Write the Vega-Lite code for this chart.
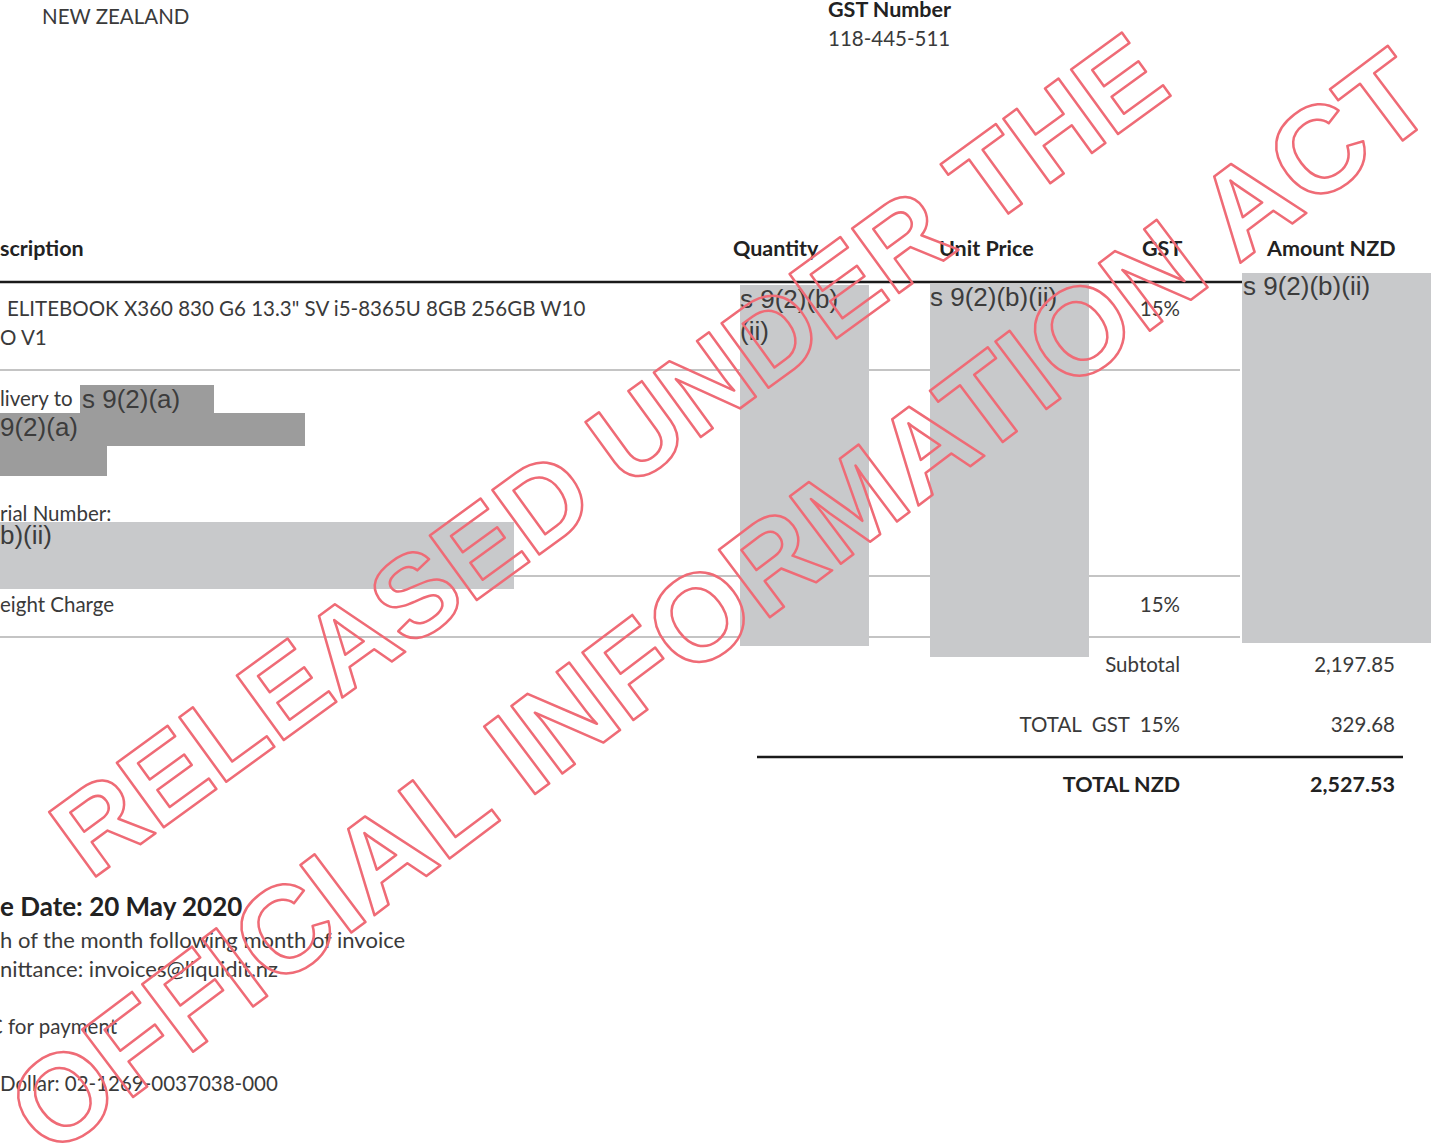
{
  "$schema": "https://vega.github.io/schema/vega-lite/v6.json",
  "width": 1431,
  "height": 1146,
  "autosize": "none",
  "padding": 0,
  "background": "#ffffff",
  "config": {"view": {"stroke": null}},
  "datasets": {
    "blackRules": [
      {"x": 0, "x2": 1431, "y": 282},
      {"x": 757, "x2": 1403, "y": 757}
    ],
    "grayRules": [
      {"x": 0, "x2": 1240, "y": 370},
      {"x": 0, "x2": 1240, "y": 576},
      {"x": 0, "x2": 1240, "y": 637}
    ],
    "darkBlocks": [
      {"x": 80, "x2": 214, "y": 385, "y2": 414},
      {"x": 0, "x2": 305, "y": 413, "y2": 446},
      {"x": 0, "x2": 107, "y": 445, "y2": 476}
    ],
    "lightBlocks": [
      {"x": 0, "x2": 514, "y": 522, "y2": 589},
      {"x": 740, "x2": 869, "y": 285, "y2": 646},
      {"x": 930, "x2": 1089, "y": 284, "y2": 657},
      {"x": 1242, "x2": 1431, "y": 273, "y2": 643}
    ],
    "bodyLeft": [
      {"x": 42, "y": 18, "text": "NEW ZEALAND"},
      {"x": 828, "y": 40, "text": "118-445-511"},
      {"x": 7, "y": 310, "text": "ELITEBOOK X360 830 G6 13.3\" SV i5-8365U 8GB 256GB W10"},
      {"x": 0, "y": 339, "text": "O V1"},
      {"x": 0, "y": 400, "text": "livery to"},
      {"x": 0, "y": 515, "text": "rial Number:"},
      {"x": 0, "y": 606, "text": "eight Charge"},
      {"x": -11, "y": 1028, "text": "C for payment"},
      {"x": 0, "y": 1085, "text": "Dollar: 02-1269-0037038-000"}
    ],
    "bodyWide": [
      {"x": 0, "y": 941, "text": "h of the month following month of invoice"},
      {"x": 0, "y": 970, "text": "nittance: invoices@liquidit.nz"}
    ],
    "bodyRight": [
      {"x": 1180, "y": 310, "text": "15%"},
      {"x": 1180, "y": 606, "text": "15%"},
      {"x": 1180, "y": 666, "text": "Subtotal"},
      {"x": 1395, "y": 666, "text": "2,197.85"},
      {"x": 1180, "y": 726, "text": "TOTAL\u00a0 GST\u00a0 15%"},
      {"x": 1395, "y": 726, "text": "329.68"}
    ],
    "boldLeft": [
      {"x": 828, "y": 11, "text": "GST Number"},
      {"x": 0, "y": 250, "text": "scription"},
      {"x": 733, "y": 250, "text": "Quantity"},
      {"x": 939, "y": 250, "text": "Unit Price"},
      {"x": 1142, "y": 250, "text": "GST"},
      {"x": 1267, "y": 250, "text": "Amount NZD"}
    ],
    "boldRight": [
      {"x": 1180, "y": 786, "text": "TOTAL NZD"},
      {"x": 1395, "y": 786, "text": "2,527.53"}
    ],
    "dueDate": [
      {"x": 0, "y": 908, "text": "e Date: 20 May 2020"}
    ],
    "redactText": [
      {"x": 740, "y": 300, "text": "s 9(2)(b)"},
      {"x": 740, "y": 332, "text": "(ii)"},
      {"x": 930, "y": 298, "text": "s 9(2)(b)(ii)"},
      {"x": 1243, "y": 287, "text": "s 9(2)(b)(ii)"},
      {"x": 82, "y": 400, "text": "s 9(2)(a)"},
      {"x": 0, "y": 428, "text": "9(2)(a)"},
      {"x": 0, "y": 536, "text": "b)(ii)"}
    ],
    "stampTop": [
      {"x": 632, "y": 487, "text": "RELEASED UNDER THE"}
    ],
    "stampBottom": [
      {"x": 745, "y": 636, "text": "OFFICIAL INFORMATION ACT"}
    ]
  },
  "encoding": {
    "x": {"field": "x", "type": "quantitative", "axis": null, "scale": {"domain": [0, 1431], "nice": false, "zero": false}},
    "y": {"field": "y", "type": "quantitative", "axis": null, "scale": {"domain": [0, 1146], "nice": false, "zero": false, "reverse": true}}
  },
  "layer": [
    {
      "data": {"name": "blackRules"},
      "mark": {"type": "rule", "color": "#1a1a1a", "strokeWidth": 2.5},
      "encoding": {"x2": {"field": "x2"}}
    },
    {
      "data": {"name": "grayRules"},
      "mark": {"type": "rule", "color": "#c4c4c4", "strokeWidth": 2},
      "encoding": {"x2": {"field": "x2"}}
    },
    {
      "data": {"name": "darkBlocks"},
      "mark": {"type": "rect", "color": "#9c9c9c"},
      "encoding": {"x2": {"field": "x2"}, "y2": {"field": "y2"}}
    },
    {
      "data": {"name": "lightBlocks"},
      "mark": {"type": "rect", "color": "#c8c9cb"},
      "encoding": {"x2": {"field": "x2"}, "y2": {"field": "y2"}}
    },
    {
      "data": {"name": "bodyLeft"},
      "mark": {"type": "text", "align": "left", "baseline": "middle", "font": "Lato", "fontSize": 20.5, "color": "#3a3a3a"},
      "encoding": {"text": {"field": "text"}}
    },
    {
      "data": {"name": "bodyWide"},
      "mark": {"type": "text", "align": "left", "baseline": "middle", "font": "Lato", "fontSize": 22, "color": "#3a3a3a"},
      "encoding": {"text": {"field": "text"}}
    },
    {
      "data": {"name": "bodyRight"},
      "mark": {"type": "text", "align": "right", "baseline": "middle", "font": "Lato", "fontSize": 20.5, "color": "#3a3a3a"},
      "encoding": {"text": {"field": "text"}}
    },
    {
      "data": {"name": "boldLeft"},
      "mark": {"type": "text", "align": "left", "baseline": "middle", "font": "Lato", "fontWeight": "bold", "fontSize": 21.5, "color": "#222222"},
      "encoding": {"text": {"field": "text"}}
    },
    {
      "data": {"name": "boldRight"},
      "mark": {"type": "text", "align": "right", "baseline": "middle", "font": "Lato", "fontWeight": "bold", "fontSize": 21.5, "color": "#222222"},
      "encoding": {"text": {"field": "text"}}
    },
    {
      "data": {"name": "dueDate"},
      "mark": {"type": "text", "align": "left", "baseline": "middle", "font": "Lato", "fontWeight": "bold", "fontSize": 26, "color": "#222222"},
      "encoding": {"text": {"field": "text"}}
    },
    {
      "data": {"name": "redactText"},
      "mark": {"type": "text", "align": "left", "baseline": "middle", "font": "Liberation Sans", "fontSize": 26, "color": "#3c3c3c"},
      "encoding": {"text": {"field": "text"}}
    },
    {
      "data": {"name": "stampTop"},
      "mark": {"type": "text", "align": "center", "baseline": "alphabetic", "font": "Liberation Sans", "fontWeight": "bold", "fontSize": 116, "angle": -36, "fill": "transparent", "stroke": "#ef6b76", "strokeWidth": 2.5, "strokeJoin": "round"},
      "encoding": {"text": {"field": "text"}}
    },
    {
      "data": {"name": "stampBottom"},
      "mark": {"type": "text", "align": "center", "baseline": "alphabetic", "font": "Liberation Sans", "fontWeight": "bold", "fontSize": 123, "angle": -37, "fill": "transparent", "stroke": "#ef6b76", "strokeWidth": 2.5, "strokeJoin": "round"},
      "encoding": {"text": {"field": "text"}}
    }
  ]
}
